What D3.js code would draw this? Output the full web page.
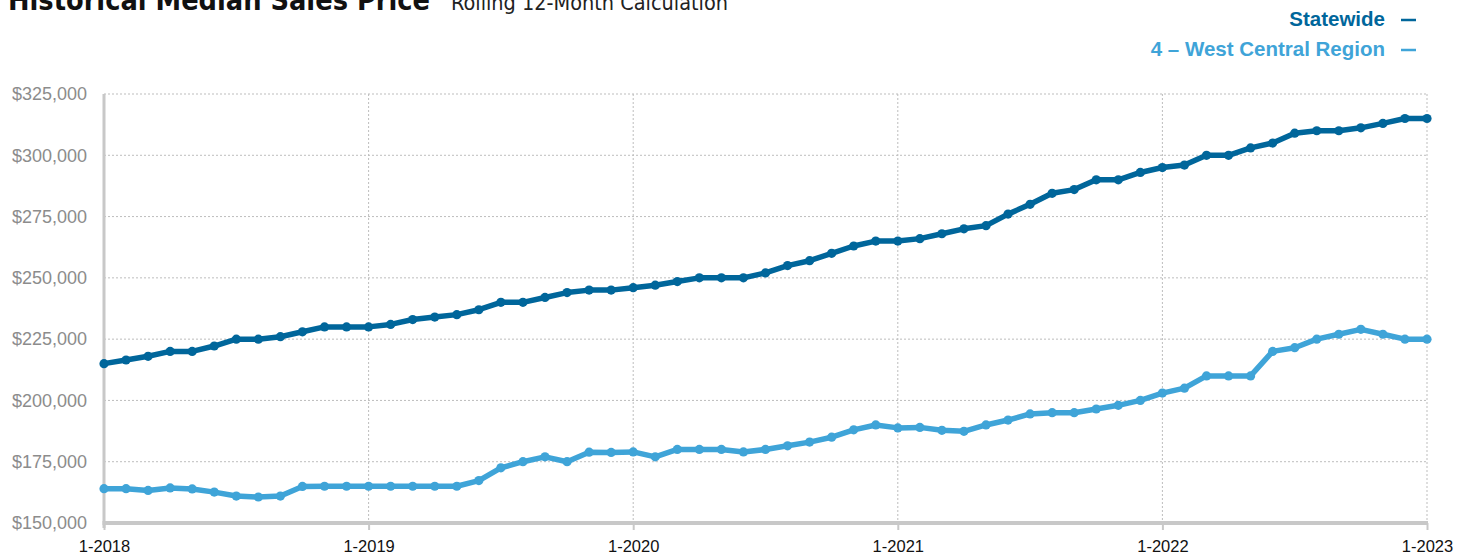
<!DOCTYPE html>
<html>
<head>
<meta charset="utf-8">
<script src="https://cdn.jsdelivr.net/npm/d3@7"></script>
<style>
  html, body { margin: 0; padding: 0; background: #fff; }
  svg { display: block; }
  .title { font-family: "Liberation Sans Narrow", "Arial Narrow", "DejaVu Sans Condensed", sans-serif; }
  .tick-y text { font-family: "Liberation Sans", Arial, sans-serif; }
</style>
</head>
<body>
<svg id="chart" width="1473" height="554"></svg>
<script>
// Rolling 12-month median sales price, monthly from 1-2018 through 1-2023
const statewide = [
  215000, 216500, 218000, 220000, 220000, 222200, 225000, 225000, 226000, 228000, 230000, 230000,
  230000, 231000, 233000, 234000, 235000, 237000, 240000, 240000, 242000, 244000, 245000, 245000,
  246000, 247000, 248500, 250000, 250000, 250000, 252000, 255000, 257000, 260000, 263000, 265000,
  265000, 266000, 268000, 270000, 271300, 276000, 280000, 284500, 286000, 290000, 290000, 293000,
  295000, 296000, 300000, 300000, 303000, 305000, 309000, 310000, 310000, 311200, 313000, 315000,
  315000
];
const westCentral = [
  164000, 164000, 163300, 164300, 163900, 162600, 161000, 160600, 161000, 164900, 165000, 165000,
  165000, 165000, 165000, 165000, 165000, 167300, 172500, 175000, 177000, 175000, 178900, 178800,
  179000, 177000, 180000, 180000, 180000, 179000, 180000, 181500, 183000, 185000, 188000, 190000,
  188800, 189000, 187800, 187400, 190000, 192000, 194500, 195000, 195000, 196500, 198000, 200000,
  203000, 205000, 210000, 210000, 210000, 220000, 221500, 225000, 227000, 229000, 227000, 225000,
  225000
];
const yearLabels = ["1-2018", "1-2019", "1-2020", "1-2021", "1-2022", "1-2023"];
const yTicks = [150000, 175000, 200000, 225000, 250000, 275000, 300000, 325000];
const seriesNames = ["Statewide", "4 \u2013 West Central Region"];
const seriesColors = ["#00669b", "#3fa4d8"];

const svg = d3.select("#chart");
const plot = { left: 104, right: 1427, top: 94, bottom: 523 };

const x = d3.scaleLinear().domain([0, statewide.length - 1]).range([plot.left, plot.right]);
const y = d3.scaleLinear().domain([150000, 325000]).range([plot.bottom, plot.top]);

const money = d3.format("$,");

// Dotted grid
const grid = svg.append("g");
grid.selectAll("line.h")
  .data(yTicks.filter(v => v > 150000))
  .join("line")
  .attr("x1", plot.left).attr("x2", plot.right)
  .attr("y1", d => y(d)).attr("y2", d => y(d))
  .attr("stroke", "#bdbdbd").attr("stroke-width", 1)
  .attr("stroke-dasharray", "2,2");
grid.selectAll("line.v")
  .data(yearLabels.slice(1).map((_, i) => (i + 1) * 12))
  .join("line")
  .attr("x1", d => x(d)).attr("x2", d => x(d))
  .attr("y1", plot.top).attr("y2", plot.bottom)
  .attr("stroke", "#bdbdbd").attr("stroke-width", 1)
  .attr("stroke-dasharray", "2,2");

// Y axis
const yAxis = svg.append("g")
  .attr("class", "tick-y")
  .attr("transform", `translate(${plot.left},0)`)
  .call(d3.axisLeft(y).tickValues(yTicks).tickFormat(money).tickSize(0).tickPadding(17));
yAxis.select(".domain").remove();
yAxis.selectAll("text").attr("fill", "#8c8c8c").style("font-size", "18px");
svg.append("line")
  .attr("x1", plot.left).attr("x2", plot.left)
  .attr("y1", plot.top).attr("y2", plot.bottom + 5)
  .attr("stroke", "#c8c8c8").attr("stroke-width", 3);

// X axis
const xAxis = svg.append("g")
  .attr("transform", `translate(0,${plot.bottom})`)
  .call(d3.axisBottom(x)
    .tickValues(yearLabels.map((_, i) => i * 12))
    .tickFormat((d, i) => yearLabels[i])
    .tickSize(7).tickPadding(10));
xAxis.select(".domain").remove();
xAxis.selectAll(".tick line").attr("stroke", "#c8c8c8").attr("stroke-width", 2);
xAxis.selectAll("text")
  .attr("fill", "#111")
  .style("font-family", "'Liberation Sans', Arial, sans-serif")
  .style("font-size", "16.5px");
svg.append("line")
  .attr("x1", plot.left - 1.5).attr("x2", plot.right + 1)
  .attr("y1", plot.bottom).attr("y2", plot.bottom)
  .attr("stroke", "#c8c8c8").attr("stroke-width", 4);

// Series lines with point markers (light series drawn first)
const line = d3.line().x((d, i) => x(i)).y(d => y(d));
[[westCentral, seriesColors[1]], [statewide, seriesColors[0]]].forEach(([vals, color]) => {
  const g = svg.append("g");
  g.append("path")
    .datum(vals)
    .attr("d", line)
    .attr("fill", "none")
    .attr("stroke", color)
    .attr("stroke-width", 5.5)
    .attr("stroke-linejoin", "round");
  g.selectAll("circle")
    .data(vals)
    .join("circle")
    .attr("cx", (d, i) => x(i))
    .attr("cy", d => y(d))
    .attr("r", 4.6)
    .attr("fill", color);
});

// Title
svg.append("text")
  .attr("class", "title")
  .attr("x", 8).attr("y", 10)
  .attr("textLength", 422).attr("lengthAdjust", "spacingAndGlyphs")
  .style("font-size", "29px").style("font-weight", "bold")
  .attr("fill", "#111")
  .text("Historical Median Sales Price");
svg.append("text")
  .attr("class", "title")
  .attr("x", 451).attr("y", 10)
  .attr("textLength", 277).attr("lengthAdjust", "spacingAndGlyphs")
  .style("font-size", "21px")
  .attr("fill", "#222")
  .text("Rolling 12-Month Calculation");

// Legend
const legend = svg.append("g")
  .style("font-family", "'Liberation Sans', Arial, sans-serif")
  .style("font-weight", "bold")
  .style("font-size", "20.5px");
seriesNames.forEach((name, i) => {
  const yy = 26 + i * 30;
  legend.append("text")
    .attr("x", 1385).attr("y", yy)
    .attr("text-anchor", "end")
    .attr("fill", seriesColors[i])
    .text(name);
  legend.append("line")
    .attr("x1", 1401).attr("x2", 1416)
    .attr("y1", yy - 6).attr("y2", yy - 6)
    .attr("stroke", seriesColors[i]).attr("stroke-width", 2.5);
});
</script>
</body>
</html>
